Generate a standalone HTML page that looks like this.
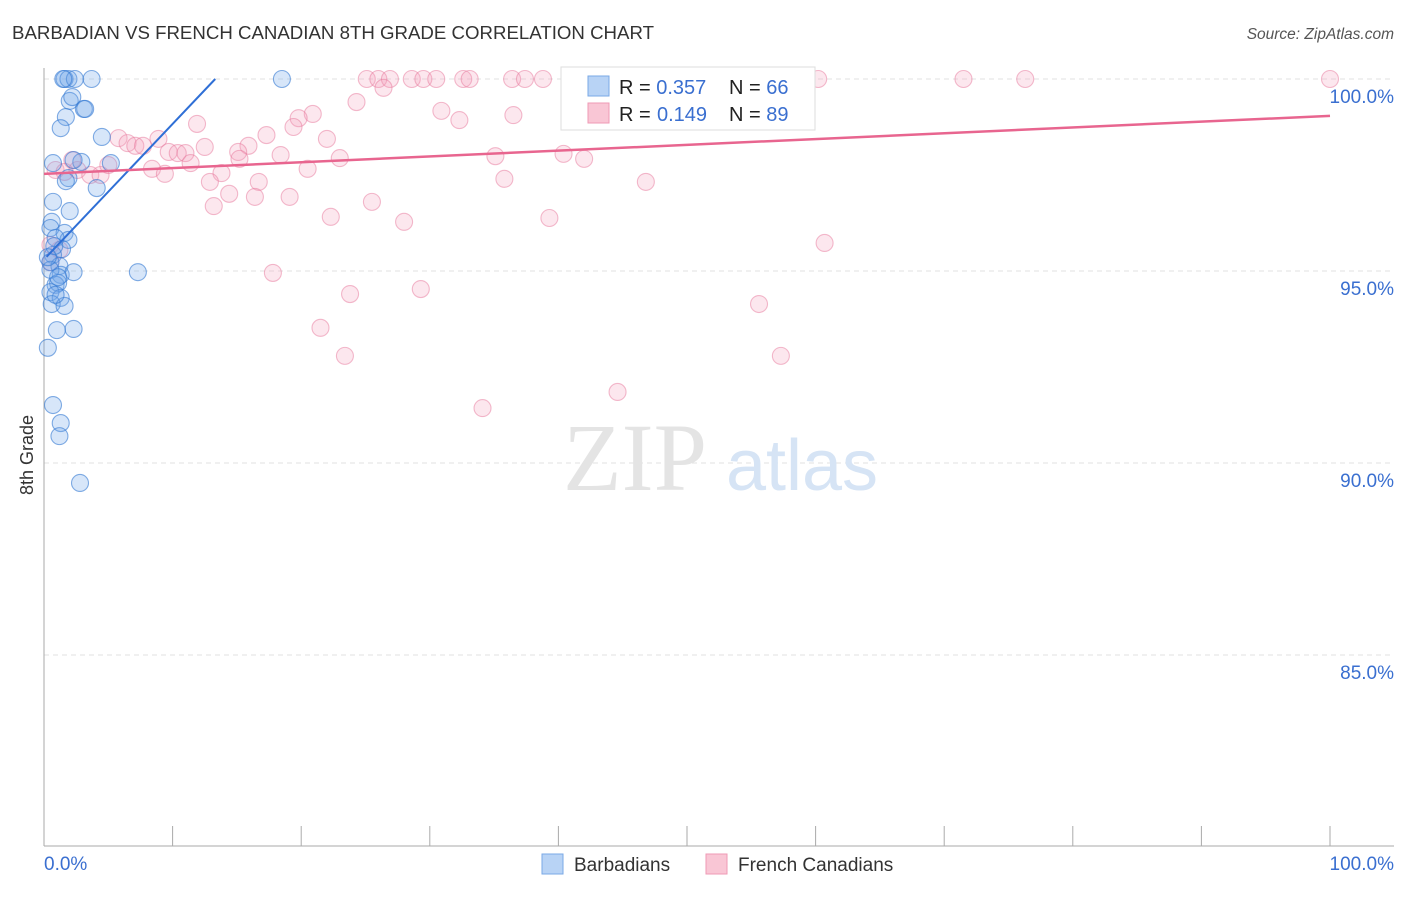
<!DOCTYPE html>
<html><head><meta charset="utf-8"><style>
body{margin:0;background:#fff;font-family:"Liberation Sans",sans-serif}
svg text{font-family:"Liberation Sans",sans-serif}
</style></head><body>
<svg id="chart" width="1406" height="892" viewBox="0 0 1406 892" xmlns="http://www.w3.org/2000/svg">
<text x="12" y="39" font-size="18" fill="#333" textLength="642" lengthAdjust="spacingAndGlyphs">BARBADIAN VS FRENCH CANADIAN 8TH GRADE CORRELATION CHART</text>
<text x="1394" y="39" font-size="15.5" fill="#555" text-anchor="end" font-style="italic">Source: ZipAtlas.com</text>
<g id="grid"></g>
<g>
<text x="635" y="490" font-size="96" fill="#e4e4e4" text-anchor="middle" font-family="Liberation Serif" style="font-family:'Liberation Serif',serif">ZIP</text>
<text x="802" y="490" font-size="72" fill="#d6e4f5" text-anchor="middle">atlas</text>
</g>
<line x1="44" y1="68" x2="44" y2="846" stroke="#aaa"/>
<line x1="44" y1="846" x2="1394" y2="846" stroke="#aaa"/>
<g id="xticks"></g>
<g id="yticks"></g>
<text x="33" y="455" font-size="18" fill="#333" text-anchor="middle" transform="rotate(-90 33 455)">8th Grade</text>
<text x="44" y="870" font-size="19" fill="#3a6fd0">0.0%</text>
<text x="1394" y="870" font-size="19" fill="#3a6fd0" text-anchor="end">100.0%</text>
<g id="pink"></g>
<g id="blue"></g>
<g id="trends"></g>
<g>
<rect x="561" y="67" width="254" height="63" fill="#fff" stroke="#ddd"/>
<rect x="588" y="76" width="21" height="20" fill="#b8d3f5" stroke="#7aa8e6"/>
<rect x="588" y="103" width="21" height="20" fill="#f9c6d5" stroke="#ef9ab5"/>
<text x="619" y="94" font-size="20" fill="#222">R = <tspan fill="#3a6fd0">0.357</tspan><tspan x="729" fill="#222">N = </tspan><tspan fill="#3a6fd0">66</tspan></text>
<text x="619" y="121" font-size="20" fill="#222">R = <tspan x="657" fill="#3a6fd0">0.149</tspan><tspan x="729" fill="#222">N = </tspan><tspan fill="#3a6fd0">89</tspan></text>
</g>
<g>
<rect x="542" y="854" width="21" height="20" fill="#b8d3f5" stroke="#7aa8e6"/>
<text x="574" y="871" font-size="19" fill="#333">Barbadians</text>
<rect x="706" y="854" width="21" height="20" fill="#f9c6d5" stroke="#ef9ab5"/>
<text x="738" y="871" font-size="19" fill="#333">French Canadians</text>
</g>
</svg>
<script>
const yTicks=[100,95,90,85];
const xTickVals=[0,10,20,30,40,50,60,70,80,90,100];
const blueX=[1.6,1.9,2.4,3.7,1.5,18.5,3.1,2.0,2.2,3.2,1.7,1.3,4.5,0.7,2.9,5.2,2.3,1.9,1.7,4.1,0.7,2.0,0.6,0.5,1.6,1.9,0.9,1.4,0.7,0.5,1.2,1.3,2.3,0.5,7.3,0.9,1.1,0.5,1.3,0.6,1.6,1.0,2.3,0.3,0.7,1.3,1.2,2.8,0.8,0.3,1.1,0.9];
const blueY=[100,100,100,100,100,100,99.22,99.43,99.53,99.22,99.01,98.72,98.49,97.81,97.84,97.81,97.89,97.42,97.34,97.16,96.80,96.56,96.28,96.12,95.99,95.81,95.86,95.57,95.42,95.23,95.13,94.90,94.97,95.03,94.97,94.64,94.69,94.45,94.30,94.14,94.09,93.46,93.49,93.0,91.51,91.04,90.70,89.48,95.65,95.36,94.84,94.38];
const pinkX=[25.1,26.0,26.9,28.6,29.5,30.5,32.6,33.1,36.4,37.4,38.8,47.9,50.2,60.2,71.5,76.3,100,26.4,24.3,30.9,20.9,19.8,32.3,36.5,11.9,19.4,17.3,22.0,8.9,5.8,6.5,7.1,7.7,12.5,15.9,15.1,9.7,10.4,11.0,18.4,15.2,11.4,23.0,35.1,40.4,42.0,8.4,9.4,13.8,20.5,12.9,16.7,35.8,46.8,14.4,16.4,19.1,13.2,25.5,22.3,28.0,39.3,60.7,17.8,23.8,29.3,55.6,21.5,23.4,57.3,44.6,34.1,0.9,1.6,2.6,3.6,4.4,2.2,5.0,1.2,0.5,0.5];
const pinkY=[100,100,100,100,100,100,100,100,100,100,100,100,100,100,100,100,100,99.77,99.40,99.17,99.09,98.98,98.93,99.06,98.83,98.75,98.54,98.44,98.44,98.46,98.33,98.26,98.26,98.23,98.26,98.10,98.10,98.07,98.07,98.02,97.92,97.81,97.94,97.99,98.05,97.92,97.66,97.53,97.55,97.66,97.32,97.32,97.40,97.32,97.01,96.93,96.93,96.69,96.80,96.41,96.28,96.38,95.73,94.95,94.40,94.53,94.14,93.52,92.79,92.79,91.85,91.43,97.63,97.58,97.63,97.50,97.50,97.89,97.76,95.55,95.23,95.68];
const blueTrend=[95.3,0.353];
const pinkTrend=[97.53,0.0151];
const NS='http://www.w3.org/2000/svg';
const X=v=>44+v*12.86;
const Y=v=>79+(100-v)*38.4;
function mk(t,a,p){const e=document.createElementNS(NS,t);for(const k in a)e.setAttribute(k,a[k]);p.appendChild(e);return e;}
const grid=document.getElementById('grid'),yt=document.getElementById('yticks'),xt=document.getElementById('xticks');
yTicks.forEach(v=>{
 const l=mk('line',{x1:44,x2:1394,y1:Y(v),y2:Y(v),stroke:'#e2e2e2','stroke-dasharray':'5,4'},grid);
 
 
 const t=mk('text',{x:1394,y:Y(v)+24,'font-size':19,fill:'#3a6fd0','text-anchor':'end'},yt);
 t.textContent=v.toFixed(1)+'%';
 
 
});
xTickVals.forEach(v=>{
 const l=mk('line',{x1:X(v),x2:X(v),y1:826,y2:846,stroke:'#aaa'},xt);
 
 
});
function pts(xs,ys,g,fill,stroke,name){xs.forEach((x,i)=>{
 const c=mk('circle',{cx:X(x),cy:Y(ys[i]),r:8.5,fill:fill,stroke:stroke,'stroke-width':1.1},g);
 
 
});}
pts(pinkX,pinkY,document.getElementById('pink'),'rgba(244,160,188,0.25)','rgba(232,120,155,0.5)','french-canadian');
pts(blueX,blueY,document.getElementById('blue'),'rgba(110,165,235,0.28)','rgba(50,120,210,0.6)','barbadian');
const tr=document.getElementById('trends');
const bx2=(100-blueTrend[0])/blueTrend[1];
const bl=mk('line',{x1:X(0.2),y1:Y(blueTrend[0]+blueTrend[1]*0.2),x2:X(bx2),y2:Y(100),stroke:'#2f6fd6','stroke-width':2},tr);


const pl=mk('line',{x1:X(0),y1:Y(pinkTrend[0]),x2:X(100),y2:Y(pinkTrend[0]+pinkTrend[1]*100),stroke:'#e8658f','stroke-width':2.5},tr);


</script>
</body></html>
